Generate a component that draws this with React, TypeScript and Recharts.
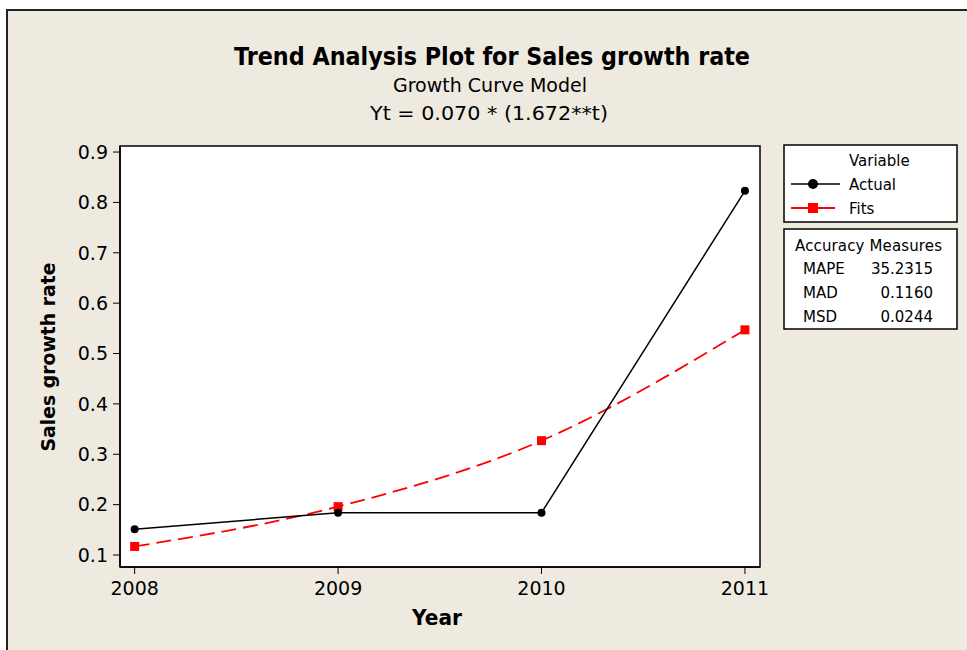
import React from 'react';
import { LineChart, Line, XAxis, YAxis } from 'recharts';

// values
const years = [2008, 2009, 2010, 2011];
const actual = [0.151, 0.184, 0.184, 0.823];
const fits = [0.117, 0.196, 0.327, 0.547];
const yTicks = [0.1, 0.2, 0.3, 0.4, 0.5, 0.6, 0.7, 0.8, 0.9];
const measureNames = ['MAPE', 'MAD', 'MSD'];
const measureValues = ['35.2315', '0.1160', '0.0244'];

const data = years.map((year, i) => ({ year, actual: actual[i], fits: fits[i] }));

const FONT = '"DejaVu Sans", Tahoma, sans-serif';
const BG = '#EEEAE0';

const SquareDot = (props: any) => {
  const { cx, cy } = props;
  if (cx == null || cy == null) return null;
  return <rect x={cx - 4.5} y={cy - 4.5} width={9} height={9} fill="#FF0000" />;
};

const TrendPlot = () => {
  return (
    <div style={{ position: 'absolute', left: 0, top: 0, width: 967, height: 650, background: '#fff', fontFamily: FONT }}>
      {/* frame, titles and legend boxes */}
      <svg width={967} height={650} style={{ position: 'absolute', left: 0, top: 0 }}>
        <rect x={7} y={10} width={980} height={660} fill={BG} stroke="#222" strokeWidth={2} />
        <rect x={120} y={146} width={640} height={421} fill="#fff" stroke="#000" strokeWidth={1.5} />

        <text x={492} y={65} textAnchor="middle" fontSize={24} fontWeight="bold" fill="#000"
          textLength={516} lengthAdjust="spacingAndGlyphs">
          Trend Analysis Plot for Sales growth rate
        </text>
        <text x={490} y={92} textAnchor="middle" fontSize={19} fill="#000"
          textLength={194} lengthAdjust="spacingAndGlyphs">
          Growth Curve Model
        </text>
        <text x={489} y={120} textAnchor="middle" fontSize={19} fill="#000"
          textLength={238} lengthAdjust="spacingAndGlyphs">
          Yt = 0.070 * (1.672**t)
        </text>

        <text x={437} y={625} textAnchor="middle" fontSize={21} fontWeight="bold" fill="#000"
          textLength={50} lengthAdjust="spacingAndGlyphs">
          Year
        </text>
        <text x={0} y={0} textAnchor="middle" fontSize={19} fontWeight="bold" fill="#000"
          transform="translate(55,357) rotate(-90)" textLength={189} lengthAdjust="spacingAndGlyphs">
          Sales growth rate
        </text>

        {/* variable legend */}
        <rect x={784} y={145} width={173} height={77} fill="#fff" stroke="#000" strokeWidth={1.5} />
        <text x={849} y={166} fontSize={15} fill="#000">Variable</text>
        <line x1={791} y1={184} x2={840} y2={184} stroke="#000" strokeWidth={1.5} />
        <circle cx={813} cy={184} r={5} fill="#000" />
        <text x={849} y={190} fontSize={15} fill="#000">Actual</text>
        <line x1={791} y1={208} x2={835} y2={208} stroke="#FF0000" strokeWidth={2} />
        <rect x={808} y={203} width={10} height={10} fill="#FF0000" />
        <text x={849} y={214} fontSize={15} fill="#000">Fits</text>

        {/* accuracy measures */}
        <rect x={784} y={229} width={173} height={100} fill="#fff" stroke="#000" strokeWidth={1.5} />
        <text x={795} y={251} fontSize={15} fill="#000" textLength={147} lengthAdjust="spacing">Accuracy Measures</text>
        {measureNames.map((name, i) => (
          <g key={name}>
            <text x={803} y={274 + i * 24} fontSize={15} fill="#000">{name}</text>
            <text x={933} y={274 + i * 24} fontSize={15} fill="#000" textAnchor="end">{measureValues[i]}</text>
          </g>
        ))}
      </svg>

      <div style={{ position: 'absolute', left: 0, top: 0 }}>
        <LineChart width={967} height={650} data={data} margin={{ top: 146, right: 207, bottom: 43, left: 60 }}>
          <XAxis
            dataKey="year"
            type="number"
            domain={[2007.928, 2011.074]}
            ticks={years}
            allowDataOverflow
            height={40}
            tickSize={7}
            tickMargin={8}
            axisLine={{ stroke: '#000', strokeWidth: 1.5 }}
            tickLine={{ stroke: '#000' }}
            tick={{ fill: '#000', fontSize: 19, fontFamily: FONT }}
            tickFormatter={(v: number) => String(v)}
          />
          <YAxis
            type="number"
            domain={[0.0762, 0.912]}
            ticks={yTicks}
            allowDataOverflow
            width={60}
            tickSize={7}
            tickMargin={5}
            axisLine={{ stroke: '#000', strokeWidth: 1.5 }}
            tickLine={{ stroke: '#000' }}
            tick={{ fill: '#000', fontSize: 19, fontFamily: FONT }}
            tickFormatter={(v: number) => v.toFixed(1)}
          />
          <Line
            dataKey="fits"
            type="monotone"
            stroke="#FF0000"
            strokeWidth={1.8}
            strokeDasharray="15 7"
            dot={<SquareDot />}
            isAnimationActive={false}
          />
          <Line
            dataKey="actual"
            type="linear"
            stroke="#000"
            strokeWidth={1.5}
            dot={{ r: 4, fill: '#000', stroke: '#000', strokeWidth: 0 }}
            isAnimationActive={false}
          />
        </LineChart>
      </div>
    </div>
  );
};

export default function App() {
  return <TrendPlot />;
}
